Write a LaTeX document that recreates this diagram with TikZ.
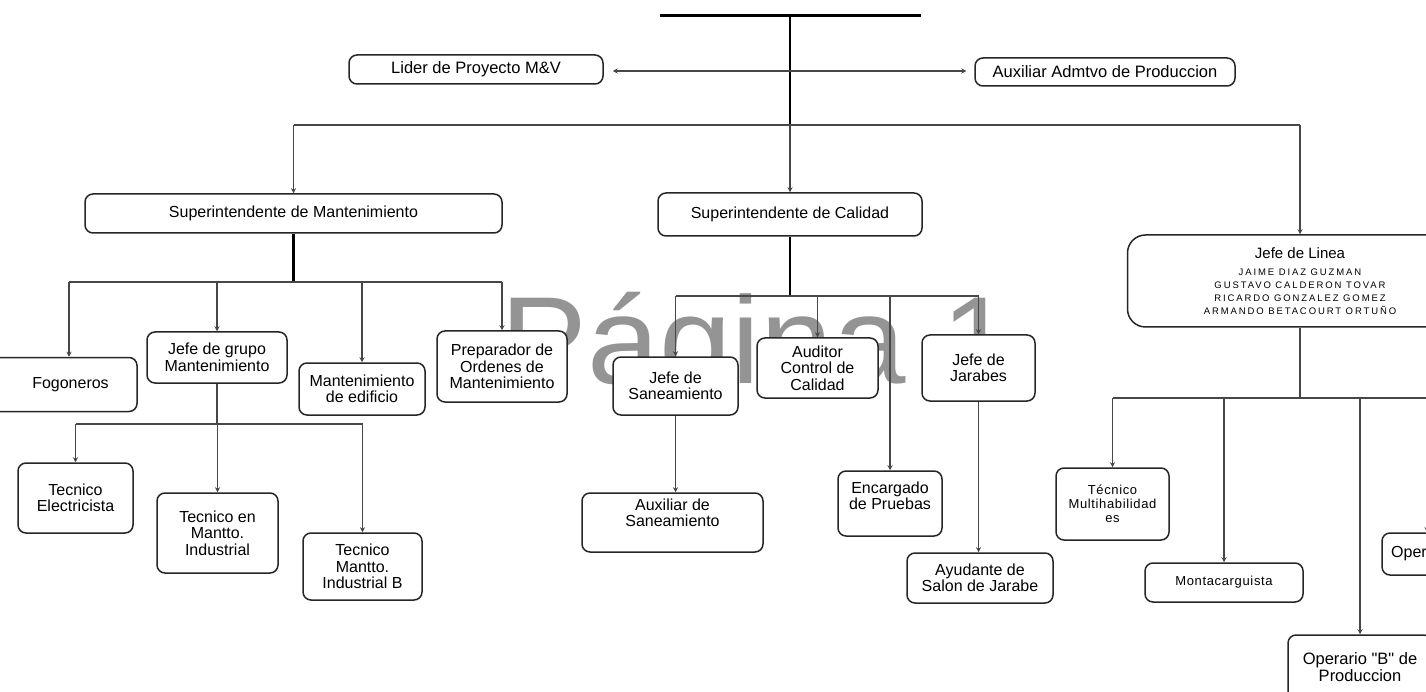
\documentclass[tikz,border=0pt]{standalone}
\usepackage{fontspec}
\setmainfont{Liberation Sans}
\newfontfamily\lsfont[LetterSpace=20]{Liberation Sans}
\newfontfamily\smfont[LetterSpace=5]{Liberation Sans}
\newfontfamily\qfont[Ligatures=TeXOff]{Liberation Sans}
\newcommand\nmfont{\lsfont\fontsize{9.5}{13}\selectfont}
\usetikzlibrary{arrows.meta}
\tikzset{
  bx/.style={draw=black!85, line width=1.5pt, rounded corners=8pt, fill=white, inner sep=0pt, align=center, font=\fontsize{16}{16.5}\selectfont},
  sz/.style 2 args={minimum width=#1pt, minimum height=#2pt},
  ln/.style={draw=black!72, line width=1.4pt},
  thk/.style={draw=black, line width=2.6pt},
  arr/.style={ln, -{Stealth[length=5pt,width=5pt]}},
}
\begin{document}
\begin{tikzpicture}[x=1pt,y=-1pt]
\useasboundingbox (0,0) rectangle (1426,692);
\fill[white] (0,0) rectangle (1426,692);
\clip (0,0) rectangle (1426,692);

% watermark
\node[anchor=base west, inner sep=0pt, text=black!42, font=\fontsize{124}{124}\selectfont] (wm) at (500,383) {\scalebox{1.05}[1]{Página 1}};

% top level
\node[bx, sz={254}{29}, font=\fontsize{16.5}{17}\selectfont] (lider) at (476,69.5) {Lider de Proyecto M\&V};
\node[bx, sz={260}{28}, font=\fontsize{16.5}{17}\selectfont] (aux) at (1105,72) {Auxiliar Admtvo de Produccion};
\node[bx, sz={417}{39}] (sm) at (293.5,213.5) {Superintendente de Mantenimiento};
\node[bx, sz={264}{43}] (sc) at (790,214.5) {Superintendente de Calidad};
\node[bx, sz={345}{92}, rounded corners=18pt, font=\nmfont] (jl) at (1300,281)
  {{\rmfamily\fontsize{15}{17}\selectfont Jefe de Linea}\\[4pt]
   \nmfont JAIME DIAZ GUZMAN\\
   \nmfont GUSTAVO CALDERON TOVAR\\
   \nmfont RICARDO GONZALEZ GOMEZ\\
   \nmfont ARMANDO BETACOURT ORTUÑO};

% mantenimiento
\node[bx, sz={152}{54}] (fog) at (61,384.5) {\hspace*{19pt}Fogoneros};
\node[bx, sz={140}{51}] (jg) at (217,357.5) {Jefe de grupo\\Mantenimiento};
\node[bx, sz={126}{52}] (me) at (362,389) {Mantenimiento\\de edificio};
\node[bx, sz={130}{71}] (prep) at (502,366.5) {Preparador de\\Ordenes de\\Mantenimiento};
\node[bx, sz={115}{70}] (te) at (75.5,498) {Tecnico\\Electricista};
\node[bx, sz={121}{80}] (tm) at (217.5,533) {Tecnico en\\Mantto.\\Industrial};
\node[bx, sz={119}{67}] (tb) at (362.5,566.5) {Tecnico\\Mantto.\\Industrial B};

% calidad
\node[bx, sz={125}{58}] (js) at (675.5,386) {Jefe de\\Saneamiento};
\node[bx, sz={121}{60}] (au) at (817.5,368) {Auditor\\Control de\\Calidad};
\node[bx, sz={104}{65}, text depth=16pt] (en) at (890,503.5) {Encargado\\de Pruebas};
\node[bx, sz={113}{66}] (jj) at (978.5,368) {Jefe de\\Jarabes};
\node[bx, sz={181}{59}, text depth=20pt] (as) at (672.5,522.5) {Auxiliar de\\Saneamiento};
\node[bx, sz={146}{50}] (ay) at (980,578) {Ayudante de\\Salon de Jarabe};

% linea
\node[bx, sz={113}{72}, font=\smfont\fontsize{13}{14}\selectfont] (tmh) at (1112.5,504) {Técnico\\Multihabilidad\\es};
\node[bx, sz={158}{39}, font=\smfont\fontsize{13}{14}\selectfont] (mo) at (1224,582.5) {Montacarguista};
\node[bx, sz={144}{65}, font=\qfont\fontsize{16.5}{17}\selectfont] (ob) at (1360,667.5) {Operario "B" de\\Produccion};
\node[bx, sz={90}{42}] (op) at (1427,554) {Oper\hspace*{36pt}};

% connectors top
\coordinate (tl) at (660,16);
\coordinate (tr) at (921,16);
\coordinate (top) at (790,16);
\coordinate (b1) at (790,125);
\coordinate (j0) at (790,71);
\draw[line width=3pt] (tl) -- (tr);
\draw[thk] (top) -- (b1);
\draw[arr, shorten >=9pt] (j0) -- (j0 -| lider.east);
\draw[arr, shorten >=8pt] (j0) -- (j0 -| aux.west);
\draw[ln] (b1 -| sm.north) -- (b1 -| jl.north);
\draw[arr] (b1 -| sm.north) -- (sm.north);
\draw[arr, line width=1.8pt] (b1) -- (sc.north);
\draw[arr] (b1 -| jl.north) -- (jl.north);

% mantenimiento connectors
\coordinate (m1) at (293.5,282);
\coordinate (mf) at (69,282);
\draw[thk] (sm.south) -- (m1);
\draw[ln] (mf) -- (m1 -| prep.north);
\draw[arr] (mf) -- (mf |- fog.north);
\draw[arr] (m1 -| jg.north) -- (jg.north);
\draw[arr] (m1 -| me.north) -- (me.north);
\draw[arr] (m1 -| prep.north) -- (prep.north);
\coordinate (g1) at (217,424);
\draw[ln] (jg.south) -- (g1);
\draw[ln] (g1 -| te.north) -- (g1 -| tb.north);
\draw[arr] (g1 -| te.north) -- (te.north);
\draw[arr] (g1 -| tm.north) -- (tm.north);
\draw[arr] (g1 -| tb.north) -- (tb.north);

% calidad connectors
\coordinate (c1) at (790,296);
\draw[thk] (sc.south) -- (c1);
\draw[ln, line width=1.8pt] (c1 -| js.north) -- (c1 -| jj.north);
\draw[arr] (c1 -| js.north) -- (js.north);
\draw[arr] (c1 -| au.north) -- (au.north);
\draw[arr] (c1 -| en.north) -- (en.north);
\draw[arr] (c1 -| jj.north) -- (jj.north);
\draw[arr] (js.south) -- (js.south |- as.north);
\draw[arr] (jj.south) -- (jj.south |- ay.north);

% linea connectors
\coordinate (l1) at (1300,398);
\coordinate (lr) at (1430,398);
\draw[ln] (jl.south) -- (l1);
\draw[ln] (l1 -| tmh.north) -- (lr);
\draw[arr] (l1 -| tmh.north) -- (tmh.north);
\draw[arr] (l1 -| mo.north) -- (mo.north);
\draw[arr] (l1 -| ob.north) -- (ob.north);
\draw[arr] (l1 -| op.north) -- (op.north);
\end{tikzpicture}
\end{document}
